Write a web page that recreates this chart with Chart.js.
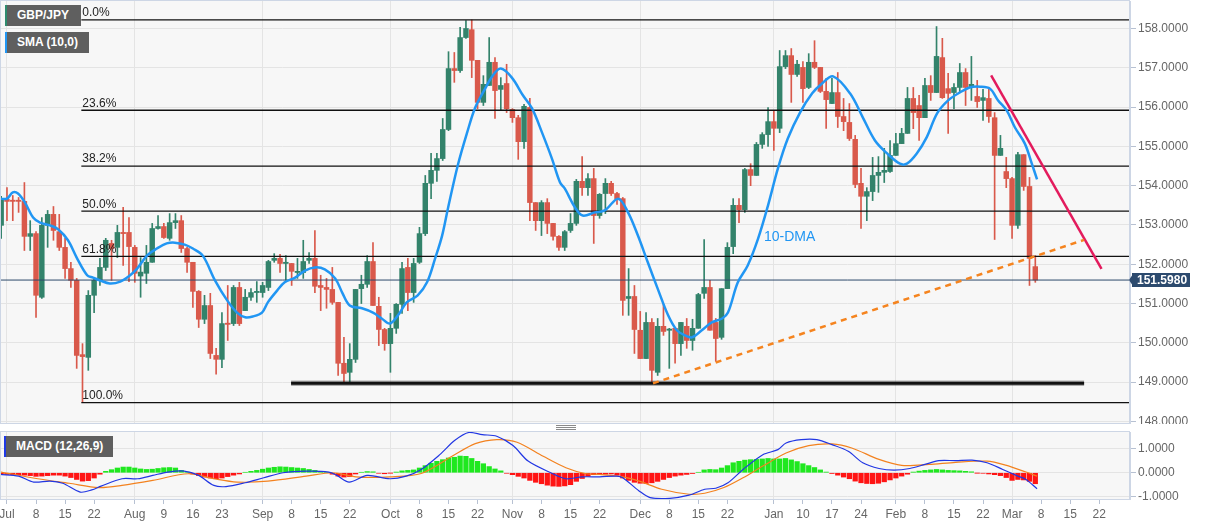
<!DOCTYPE html>
<html>
<head>
<meta charset="utf-8">
<script src="https://cdn.jsdelivr.net/npm/chart.js@4.4.0/dist/chart.umd.min.js"></script>
<style>
  body { margin: 0; background: #fff; width: 1207px; height: 526px; overflow: hidden; position: relative;
         font-family: "Liberation Sans", Arial, sans-serif; }
  canvas { position: absolute; left: 0; }
  #main { top: 0; }
  #macd { top: 426px; }
  .tag { position: absolute; background: #5f5f5f; color: #fff; font-size: 12px; font-weight: bold;
         height: 21px; line-height: 21px; padding-left: 10px; box-sizing: border-box; border-left: 2px solid; }
  .grip { position: absolute; left: 556px; width: 20px; height: 1px; background: #8a8a8a; }
</style>
</head>
<body>
<canvas id="main" width="1207" height="424"></canvas>
<canvas id="macd" width="1207" height="100"></canvas>
<div class="tag" style="left:5px;top:5px;width:76px;border-left-color:#2e8b6e">GBP/JPY</div>
<div class="tag" style="left:5px;top:32px;width:84px;border-left-color:#2196f3">SMA (10,0)</div>
<div class="tag" style="left:4px;top:436px;width:109px;border-left-color:#1f39e6">MACD (12,26,9)</div>
<div class="grip" style="top:425px"></div>
<div class="grip" style="top:427px"></div>
<div class="grip" style="top:429px"></div>
<script>
// daily candles, index 0 = 1 Jul 2021 (weekdays only), first one is 30 Jun
const firstIdx = -1;
const open = [
  152.99,153.65,153.63,153.62,153.60,152.71,152.78,151.16,152.99,153.27,
  152.83,152.43,151.89,151.59,149.70,149.63,151.21,151.59,151.92,152.53,
  152.43,152.81,152.81,152.43,151.70,151.77,152.05,152.91,152.96,152.66,
  153.06,153.11,152.40,152.05,151.31,150.60,150.95,149.68,149.58,150.49,
  150.49,151.41,150.82,151.16,151.28,151.28,151.41,152.10,152.15,152.02,
  152.02,151.79,151.79,152.10,152.15,151.46,151.41,151.36,151.03,149.48,
  149.25,149.58,151.38,151.49,152.07,150.93,150.34,149.98,150.37,150.98,
  151.92,151.28,152.05,152.78,154.06,154.39,154.69,155.43,156.98,156.93,
  157.77,157.97,157.19,156.12,156.55,157.14,156.45,156.60,155.94,155.73,
  155.12,155.99,153.57,153.11,153.57,153.04,152.71,152.43,152.86,153.04,
  154.11,153.95,154.18,153.24,153.80,154.06,153.80,153.67,151.13,151.18,
  150.32,149.60,150.52,149.25,150.42,150.32,150.37,149.98,150.42,150.06,
  150.37,151.26,151.41,150.52,150.14,151.38,152.45,153.50,153.39,154.41,
  154.26,155.05,155.30,155.63,155.46,157.03,157.31,156.83,157.01,156.50,
  157.14,157.01,156.40,156.09,156.37,155.76,155.61,155.18,154.06,153.73,
  153.85,154.26,154.34,154.36,154.77,155.07,155.33,156.22,156.04,155.73,
  156.55,156.37,157.26,156.47,156.37,156.50,156.88,156.50,156.27,156.17,
  156.22,155.73,154.77,154.36,154.18,152.99,154.79,153.98,151.94
];
const close = [
  153.67,153.60,153.60,153.60,152.71,152.78,151.21,152.99,153.27,152.86,
  152.43,151.89,151.59,149.68,149.65,151.21,151.59,151.92,152.61,152.40,
  152.81,152.78,152.45,151.77,151.80,152.05,152.91,152.96,152.68,153.06,
  153.11,152.40,152.05,151.31,150.60,150.95,149.73,149.58,150.49,150.47,
  151.41,150.49,151.16,151.28,151.31,151.46,152.07,152.15,152.02,152.05,
  151.82,151.82,152.07,152.15,151.44,151.41,151.36,151.03,149.48,149.22,
  149.58,151.36,151.49,152.07,150.95,150.34,149.98,150.37,150.98,151.89,
  151.28,152.02,152.78,154.06,154.39,154.69,155.43,156.98,156.93,157.77,
  158.00,157.19,156.12,156.58,157.14,156.42,156.55,155.96,155.73,155.12,
  156.02,153.57,153.11,153.57,153.04,152.71,152.43,152.83,153.04,154.11,
  153.95,154.18,153.24,153.78,154.06,153.80,153.67,151.08,151.18,150.34,
  149.60,150.52,149.30,150.42,150.29,150.34,149.98,150.52,150.06,150.37,
  151.23,151.41,150.32,150.11,151.38,152.43,153.50,153.39,154.41,154.26,
  155.05,155.30,155.63,155.46,157.03,157.31,156.83,157.09,156.47,157.14,
  157.01,156.40,156.19,156.37,155.76,155.63,155.20,154.03,153.73,153.85,
  154.26,154.34,154.39,154.77,155.07,155.33,156.22,155.86,155.73,156.55,
  156.37,157.29,156.24,156.35,156.50,156.88,156.50,156.58,156.14,156.24,
  155.76,154.77,154.95,154.18,152.99,154.79,153.98,152.15,151.598
];
const high = [
  153.73,153.95,153.75,153.70,154.08,153.11,152.83,153.19,153.37,153.47,
  153.27,152.66,152.05,151.64,149.98,151.33,151.64,152.15,152.66,152.61,
  152.99,153.45,153.19,152.48,152.17,152.48,153.04,153.24,153.04,153.29,
  153.29,153.24,152.43,152.05,151.33,151.21,151.26,149.86,150.77,151.46,
  151.46,151.54,151.36,151.38,151.56,151.54,152.10,152.27,152.25,152.22,
  152.02,152.15,152.61,152.30,152.86,151.72,151.64,151.92,151.03,150.14,
  149.98,151.36,151.72,152.22,152.55,151.16,150.37,150.75,151.00,152.05,
  152.15,152.15,152.94,154.26,154.82,154.82,155.71,157.41,157.39,158.03,
  158.20,158.22,157.19,156.80,157.77,157.26,156.75,157.09,155.96,155.79,
  156.07,156.22,153.57,153.62,153.67,153.04,152.73,152.86,153.29,154.16,
  154.74,154.31,154.44,153.80,154.18,154.11,153.83,153.70,151.89,151.46,
  150.80,150.77,150.62,150.62,150.98,150.37,150.37,150.52,150.62,150.60,
  151.26,152.63,151.59,150.62,151.38,152.55,153.67,153.67,154.44,154.56,
  155.10,155.35,155.99,155.91,157.44,157.44,157.49,157.19,157.16,157.36,
  157.69,157.01,156.73,156.73,156.88,156.22,156.09,155.28,154.44,153.95,
  154.72,154.74,154.95,155.15,155.33,155.46,156.50,156.50,156.30,156.73,
  156.80,158.05,157.75,156.86,156.60,157.11,156.98,157.29,156.68,156.45,
  156.50,155.86,155.28,154.72,154.21,154.85,154.79,154.21,152.22
];
const low = [
  152.66,153.11,153.11,153.32,152.35,152.35,150.65,151.13,152.43,152.61,
  152.35,151.64,151.41,149.35,148.48,149.30,150.77,151.46,151.84,151.59,
  152.17,151.97,151.56,151.54,151.16,151.51,152.05,152.89,152.66,152.61,
  152.91,152.30,151.79,150.90,150.39,150.49,149.60,149.20,149.37,150.06,
  150.44,150.44,150.82,151.08,151.03,151.16,151.33,152.05,151.79,151.59,
  151.46,151.64,151.64,152.02,151.28,150.82,150.88,150.98,149.17,148.97,
  148.99,149.50,151.00,151.41,150.95,149.93,149.81,149.25,150.24,150.75,
  150.82,151.03,152.02,152.73,153.67,154.11,154.64,155.40,156.63,156.88,
  157.75,156.75,155.96,156.04,156.55,155.71,155.91,155.86,155.61,154.67,
  154.95,153.11,152.86,152.73,152.78,152.61,152.35,152.35,152.81,152.99,
  153.75,153.75,152.53,153.17,153.29,153.75,153.52,150.70,150.70,149.73,
  149.60,149.60,148.97,149.17,150.19,149.35,149.48,149.68,149.86,149.81,
  150.37,151.13,150.32,149.53,150.09,151.38,152.27,153.06,153.32,154.00,
  154.26,154.95,155.00,154.90,155.35,156.98,156.12,156.78,156.12,156.47,
  156.98,156.37,155.46,156.09,155.48,155.40,155.15,153.95,152.91,153.11,
  153.62,153.83,154.08,154.34,154.77,155.07,155.33,155.45,155.15,155.73,
  156.17,156.37,156.22,155.33,155.96,156.37,156.04,156.17,155.99,155.66,
  155.61,152.63,154.77,153.95,152.66,152.91,153.88,151.46,151.54
];

// 10-day SMA (index, price)
const smaIdx = [-1.2,0,1,1.9,3.1,4.5,5.7,7.4,8.8,10.5,12,13.8,14.8,16,17.7,19.5,21.2,22.4,24.1,25.8,27.5,28.9,
  30.6,32,33.7,35.8,37.9,39.6,41,42.3,43.9,44.9,46.5,47.8,49.6,51.3,53,54.7,56.5,57.7,59,61.1,63,64.5,65.9,
  67.3,68.8,70.7,72.3,73.7,74.9,75.9,77.6,79.2,80.6,82.3,83.6,85,86.9,88.8,90.4,92.1,93.8,95.2,96,97.8,99.1,
  101.2,102.9,105.2,106.9,108.6,110.3,112,113.8,115.3,116.7,117.9,119.6,121.3,123.1,124.1,125.8,127.5,129.3,
  131,132.7,134.4,136.5,138.6,140.3,142.2,145.1,147.3,149.4,151.5,153.7,154.9,156.6,158.3,160.1,162,164,
  165.7,167.5,169.2,170.6,172.1,173.5,175.2,176.4,177.3];
const smaVal = [153.67,153.67,153.83,153.80,153.57,153.19,153.06,152.99,152.89,152.61,152.17,151.72,151.66,
  151.59,151.51,151.56,151.72,151.89,152.22,152.40,152.53,152.55,152.50,152.40,152.22,151.59,151.08,150.77,
  150.65,150.67,150.77,151.03,151.33,151.54,151.66,151.84,151.92,151.87,151.64,151.28,150.95,150.88,150.77,
  150.62,150.49,150.70,151.03,151.21,151.54,152.15,152.73,153.42,154.52,155.35,155.99,156.47,156.80,156.98,
  156.75,156.30,155.96,155.35,154.69,154.08,153.93,153.44,153.24,153.32,153.37,153.67,153.32,152.73,152.05,
  151.38,150.70,150.32,150.19,150.14,150.32,150.52,150.62,150.77,151.54,151.97,152.66,153.50,154.44,155.20,
  155.86,156.35,156.60,156.78,156.35,155.74,155.15,154.82,154.56,154.56,154.82,155.23,155.84,156.17,156.37,
  156.50,156.52,156.47,156.17,155.91,155.48,155.07,154.56,154.16];

// Fibonacci retracement of the Jul low / Oct high
const fibLabels = ["0.0%", "23.6%", "38.2%", "50.0%", "61.8%", "100.0%"];
const fibLevels = [158.22, 155.92, 154.50, 153.35, 152.20, 148.48];
const fibStart = 12.8;

// drawn lines (index, price)
const supportIdx = [48.9, 185.4];
const supportVal = [148.97, 148.97];
const orangeIdx = [111.2, 185.4];
const orangeVal = [148.97, 152.62];
const pinkIdx = [169.4, 188.4];
const pinkVal = [156.81, 151.88];
const dmaLabel = { x: 130.3, y: 152.68, text: "10-DMA" };

// MACD panel
const hist = [
  -0.05,-0.07,-0.08,-0.08,-0.10,-0.12,-0.15,-0.14,-0.12,-0.10,
  -0.10,-0.14,-0.20,-0.28,-0.35,-0.33,-0.22,-0.06,0.06,0.13,
  0.20,0.24,0.24,0.20,0.16,0.14,0.15,0.18,0.21,0.22,
  0.20,0.10,0.03,-0.05,-0.12,-0.18,-0.22,-0.25,-0.22,-0.16,
  -0.10,-0.05,0.02,0.06,0.10,0.15,0.20,0.23,0.25,0.24,
  0.22,0.20,0.18,0.14,0.10,0.05,0.02,-0.06,-0.14,-0.18,
  -0.16,-0.05,0.02,0.05,0.04,-0.02,-0.04,-0.01,0.03,0.08,
  0.10,0.12,0.20,0.30,0.40,0.48,0.55,0.62,0.65,0.70,
  0.69,0.60,0.48,0.38,0.26,0.16,0.08,-0.02,-0.08,-0.15,
  -0.22,-0.32,-0.40,-0.46,-0.52,-0.56,-0.57,-0.55,-0.50,-0.36,
  -0.24,-0.15,-0.08,-0.06,-0.06,-0.05,-0.10,-0.22,-0.32,-0.40,
  -0.44,-0.45,-0.42,-0.36,-0.28,-0.20,-0.14,-0.10,-0.07,-0.03,
  0.02,0.12,0.14,0.13,0.20,0.30,0.42,0.48,0.53,0.55,
  0.56,0.58,0.60,0.58,0.58,0.60,0.54,0.47,0.38,0.30,
  0.22,0.12,0.03,-0.03,-0.10,-0.18,-0.25,-0.35,-0.42,-0.45,
  -0.46,-0.44,-0.38,-0.30,-0.22,-0.14,-0.06,0.03,0.07,0.10,
  0.12,0.14,0.12,0.10,0.09,0.08,0.06,0.04,-0.01,-0.02,
  -0.05,-0.08,-0.12,-0.20,-0.32,-0.28,-0.30,-0.36,-0.46
];
const macdIdx = [-1.2,2,4.6,7.4,9.6,12.6,14.6,16.2,19.8,22.5,25.1,27.7,30.5,33,35.6,37.7,41,44.2,47.5,51.5,
  55.4,56.8,58.9,62,65.9,68.7,71.3,74.5,77.1,79.5,81.8,84.3,87.1,89.7,93.6,96.2,99,102,105,106,108.8,110.7,
  114.1,117.4,120.1,122,124.1,126.7,130.1,132.7,134.1,136.7,139.4,142,144.8,147.3,150.1,152.7,155.4,158,
  160.4,163.3,166.1,168.7,171.4,174,175.4,177.3];
const macdVal = [-0.07,-0.14,-0.39,-0.35,-0.44,-0.81,-0.72,-0.56,-0.25,-0.25,-0.11,0.03,0.07,-0.11,-0.53,-0.58,
  -0.42,-0.21,0,0.07,0.03,-0.11,-0.39,-0.11,-0.25,-0.14,0.14,0.76,1.36,1.69,1.60,1.53,1.14,0.49,0,-0.25,-0.17,
  -0.17,-0.14,-0.21,-0.76,-1.04,-1.07,-0.94,-0.69,-0.65,-0.42,0.14,0.76,0.97,1.25,1.39,1.39,1.18,0.90,0.42,
  0.18,0.11,0.18,0.35,0.51,0.51,0.53,0.42,0.14,-0.14,-0.28,-0.67];
const sigIdx = [-1.2,5.3,10.7,15.8,19.8,25.1,31.2,35.6,39.6,44.9,51.5,56.1,60.1,65.9,71.3,76.6,80.6,84.3,87.8,
  92.3,96.2,99.5,102,106,108.8,112.7,117.4,120.1,123.4,126.7,130.1,134.1,138,142,145.4,150.1,154,158.7,
  163.3,168.7,171.9,175.4,177.3];
const sigVal = [0.04,-0.25,-0.44,-0.62,-0.53,-0.32,-0.04,-0.25,-0.39,-0.35,-0.14,0,-0.17,-0.17,-0.03,0.69,1.22,
  1.39,1.28,0.69,0.21,-0.03,-0.07,-0.17,-0.35,-0.69,-0.90,-0.86,-0.62,-0.21,0.28,0.83,1.14,1.21,1.04,0.56,
  0.31,0.35,0.44,0.49,0.32,0.03,-0.14];

// axes
const priceTicks = [148, 149, 150, 151, 152, 153, 154, 155, 156, 157, 158];
const macdTicks = [-1, 0, 1];
const monthIdx = [0, 22, 44, 66, 87, 109, 132, 153, 173];
const tickIdx = [0,5,10,15,22,27,32,37,44,49,54,59,66,71,76,81,87,92,97,102,109,114,119,124,132,137,142,147,
  153,158,163,168,173,178,183,188];
const tickText = ["Jul","8","15","22","Aug","9","16","23","Sep","8","15","22","Oct","8","15","22","Nov","8",
  "15","22","Dec","8","15","22","Jan","10","17","24","Feb","8","15","22","Mar","8","15","22"];

const xMin = -1.2, xMax = 193.3;
const upCol = "#33836b", downCol = "#d9594b";
const fontFam = '"Liberation Sans", Arial, sans-serif';
Chart.defaults.font.family = fontFam;
Chart.defaults.animation = false;

const candleX = open.map((_, k) => firstIdx + k);
const candleCol = open.map((o, k) => close[k] >= o ? upCol : downCol);
const lastPrice = close[close.length - 1];
const pts = (xs, ys) => xs.map((v, k) => ({ x: v, y: ys[k] }));

function lineSet(data, color, width, order, extra) {
  return Object.assign({ type: "line", data: data, borderColor: color, borderWidth: width,
    pointRadius: 0, fill: false, tension: 0, order: order }, extra || {});
}

//grey plot background + thin frame
const frame = {
  id: "frame",
  beforeDraw(chart) {
    const a = chart.chartArea, ctx = chart.ctx;
    ctx.save();
    ctx.fillStyle = "#f7f7f7";
    ctx.fillRect(a.left, a.top, a.right - a.left, a.bottom - a.top);
    ctx.restore();
  },
  afterDraw(chart) {
    const a = chart.chartArea, ctx = chart.ctx;
    ctx.save();
    ctx.strokeStyle = "#cdd6e5";
    ctx.lineWidth = 1;
    ctx.strokeRect(a.left + 0.5, a.top - 0.5, a.right - a.left - 1, a.bottom - a.top + 1);
    ctx.restore();
  }
};

// fib labels, 10-DMA text and last price tag
const notes = {
  id: "notes",
  afterDatasetsDraw(chart) {
    const ctx = chart.ctx, x = chart.scales.x, y = chart.scales.y;
    ctx.save();
    ctx.font = "12px " + fontFam;
    ctx.fillStyle = "#222";
    ctx.textBaseline = "bottom";
    ctx.textAlign = "left";
    fibLevels.forEach((lv, k) => {
      ctx.fillText(fibLabels[k], x.getPixelForValue(fibStart) + 1, y.getPixelForValue(lv) - 1);
    });
    ctx.font = "14px " + fontFam;
    ctx.fillStyle = "#2196f3";
    ctx.textBaseline = "middle";
    ctx.fillText(dmaLabel.text, x.getPixelForValue(dmaLabel.x), y.getPixelForValue(dmaLabel.y));
    ctx.restore();
  },
  afterDraw(chart) {
    const ctx = chart.ctx, y = chart.scales.y, a = chart.chartArea;
    const py = Math.round(y.getPixelForValue(lastPrice));
    ctx.save();
    ctx.fillStyle = "#2c4a6e";
    ctx.beginPath();
    ctx.moveTo(a.right - 1, py);
    ctx.lineTo(a.right + 3, py - 6);
    ctx.lineTo(a.right + 3, py + 6);
    ctx.closePath();
    ctx.fill();
    ctx.fillRect(a.right + 2, py - 7, 58, 14);
    ctx.fillStyle = "#fff";
    ctx.font = "bold 12px " + fontFam;
    ctx.textBaseline = "middle";
    ctx.textAlign = "left";
    ctx.fillText(lastPrice.toFixed(4), a.right + 7, py + 1);
    ctx.restore();
  }
};

const mainSets = [
  lineSet(pts(orangeIdx, orangeVal), "#f5841f", 2.5, 0, { borderDash: [6, 5] }),
  lineSet(pts(pinkIdx, pinkVal), "#e31b5d", 2.5, 0),
  lineSet(pts(smaIdx, smaVal), "#2196f3", 2.5, 1, { tension: 0.35 }),
  lineSet(pts(supportIdx, supportVal), "#111", 3, 2),
  lineSet(pts(supportIdx, supportVal), "rgba(0,0,0,0.3)", 5.5, 2.5),
  lineSet([{ x: xMin, y: lastPrice }, { x: xMax, y: lastPrice }], "#2d4a6b", 1, 2),
  {
    type: "bar", data: candleX.map((v, k) => ({ x: v, y: [open[k], close[k]] })),
    backgroundColor: candleCol, barThickness: 4.8, grouped: false, minBarLength: 1.2, order: 3
  },
  {
    type: "bar", data: candleX.map((v, k) => ({ x: v, y: [low[k], high[k]] })),
    backgroundColor: candleCol, barThickness: 1, grouped: false, order: 4
  }
];
fibLevels.forEach(lv => mainSets.push(lineSet([{ x: fibStart, y: lv }, { x: xMax, y: lv }], "#111", 1.3, 2)));

new Chart(document.getElementById("main"), {
  type: "bar",
  data: { datasets: mainSets },
  options: {
    responsive: false,
    layout: { padding: { left: 0, right: 0, top: 1, bottom: 1 } },
    plugins: { legend: { display: false }, tooltip: { enabled: false } },
    scales: {
      x: {
        type: "linear", min: xMin, max: xMax, offset: false,
        grid: { color: "#e4e4e4", drawTicks: false, offset: false },
        border: { display: false },
        ticks: { display: false },
        afterBuildTicks: s => { s.ticks = monthIdx.map(v => ({ value: v })); },
        afterFit: s => { s.height = 0; s.paddingLeft = 0; s.paddingRight = 0; }
      },
      y: {
        type: "linear", position: "right", min: 147.96, max: 158.70,
        grid: { color: "#e4e4e4", tickLength: 6, tickColor: "#b7c1d2" },
        border: { color: "#cdd6e5" },
        ticks: { color: "#666", font: { size: 12 }, padding: 2, callback: v => v.toFixed(4) },
        afterBuildTicks: s => { s.ticks = priceTicks.map(v => ({ value: v })); },
        afterFit: s => { s.width = 77; s.paddingTop = 0; s.paddingBottom = 0; }
      }
    }
  },
  plugins: [frame, notes]
});

new Chart(document.getElementById("macd"), {
  type: "bar",
  data: {
    datasets: [
      lineSet(pts(macdIdx, macdVal), "#2136e3", 1.2, 0, { tension: 0.3 }),
      lineSet(pts(sigIdx, sigVal), "#f3821f", 1.2, 0, { tension: 0.3 }),
      {
        type: "bar", data: candleX.map((v, k) => ({ x: v, y: hist[k] })),
        backgroundColor: hist.map(v => v >= 0 ? "#1fe81f" : "#ff1414"),
        barThickness: 4.6, grouped: false, order: 1
      }
    ]
  },
  options: {
    responsive: false,
    layout: { padding: { left: 0, right: 0, top: 6, bottom: 0 } },
    plugins: { legend: { display: false }, tooltip: { enabled: false } },
    scales: {
      x: {
        type: "linear", min: xMin, max: xMax, offset: false,
        grid: {
          offset: false, tickLength: 5, tickColor: "#b7c1d2",
          color: c => (c.tick && monthIdx.includes(c.tick.value)) ? "#e4e4e4" : "rgba(0,0,0,0)"
        },
        border: { color: "#cdd6e5" },
        ticks: {
          color: "#666", font: { size: 12 }, padding: 3, autoSkip: false, maxRotation: 0,
          callback: v => tickText[tickIdx.indexOf(v)]
        },
        afterBuildTicks: s => { s.ticks = tickIdx.map(v => ({ value: v })); },
        afterFit: s => { s.height = 27; s.paddingLeft = 0; s.paddingRight = 0; }
      },
      y: {
        type: "linear", position: "right", min: -1.10, max: 1.71,
        grid: { color: "#e4e4e4", tickLength: 6, tickColor: "#b7c1d2" },
        border: { color: "#cdd6e5" },
        ticks: { color: "#666", font: { size: 12 }, padding: 2, callback: v => v.toFixed(4) },
        afterBuildTicks: s => { s.ticks = macdTicks.map(v => ({ value: v })); },
        afterFit: s => { s.width = 77; s.paddingTop = 0; s.paddingBottom = 0; }
      }
    }
  },
  plugins: [frame]
});
</script>
</body>
</html>
